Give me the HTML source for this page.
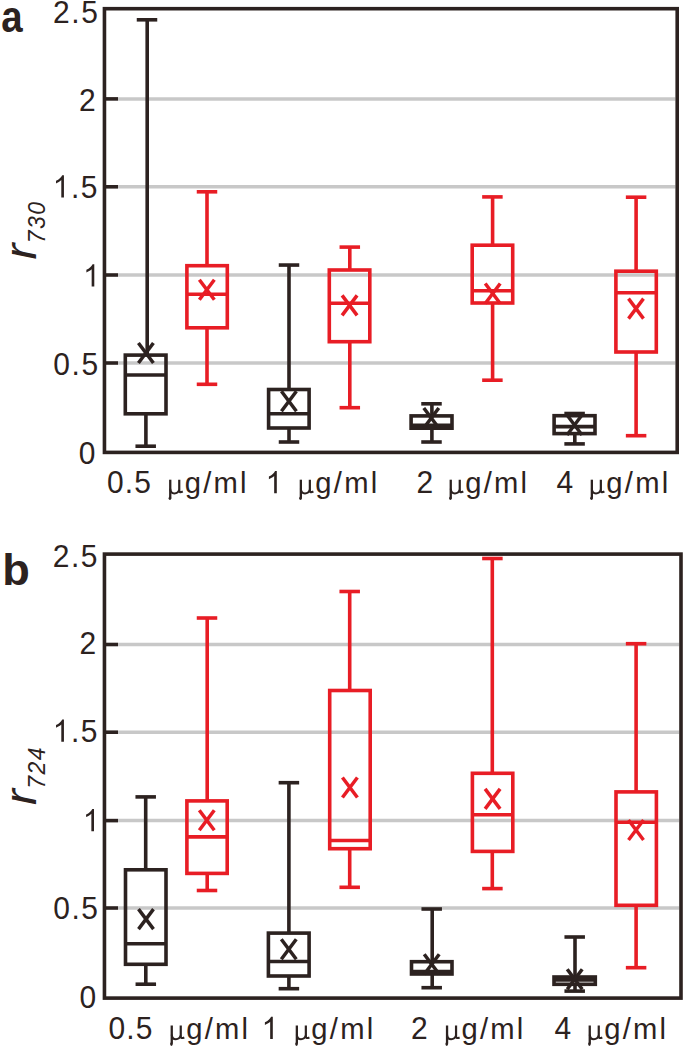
<!DOCTYPE html>
<html><head><meta charset="utf-8"><style>
html,body{margin:0;padding:0;background:#fff;}
svg{display:block;}
text{font-family:"Liberation Sans",sans-serif;fill:#2c2220;}
text.sf{font-family:"Liberation Serif",serif;}
</style></head><body>
<svg width="685" height="1047" viewBox="0 0 685 1047">
<line x1="118.00" y1="98.90" x2="675.40" y2="98.90" stroke="#c8c8c8" stroke-width="3.5" stroke-linecap="butt"/>
<line x1="104.45" y1="98.90" x2="118.00" y2="98.90" stroke="#2c2220" stroke-width="3.6" stroke-linecap="butt"/>
<line x1="118.00" y1="186.80" x2="675.40" y2="186.80" stroke="#c8c8c8" stroke-width="3.5" stroke-linecap="butt"/>
<line x1="104.45" y1="186.80" x2="118.00" y2="186.80" stroke="#2c2220" stroke-width="3.6" stroke-linecap="butt"/>
<line x1="118.00" y1="275.00" x2="675.40" y2="275.00" stroke="#c8c8c8" stroke-width="3.5" stroke-linecap="butt"/>
<line x1="104.45" y1="275.00" x2="118.00" y2="275.00" stroke="#2c2220" stroke-width="3.6" stroke-linecap="butt"/>
<line x1="118.00" y1="363.00" x2="675.40" y2="363.00" stroke="#c8c8c8" stroke-width="3.5" stroke-linecap="butt"/>
<line x1="104.45" y1="363.00" x2="118.00" y2="363.00" stroke="#2c2220" stroke-width="3.6" stroke-linecap="butt"/>
<line x1="147.20" y1="19.80" x2="147.20" y2="355.10" stroke="#2c2220" stroke-width="3.6" stroke-linecap="butt"/>
<line x1="145.90" y1="413.80" x2="145.90" y2="446.20" stroke="#2c2220" stroke-width="3.6" stroke-linecap="butt"/>
<line x1="136.75" y1="19.80" x2="157.25" y2="19.80" stroke="#2c2220" stroke-width="3.6" stroke-linecap="butt"/>
<line x1="135.45" y1="446.20" x2="155.95" y2="446.20" stroke="#2c2220" stroke-width="3.6" stroke-linecap="butt"/>
<rect x="125.30" y="355.10" width="40.70" height="58.70" fill="none" stroke="#2c2220" stroke-width="3.6"/>
<line x1="125.30" y1="375.00" x2="166.00" y2="375.00" stroke="#2c2220" stroke-width="3.6" stroke-linecap="butt"/>
<line x1="138.40" y1="343.00" x2="153.40" y2="363.00" stroke="#2c2220" stroke-width="3.5" stroke-linecap="butt"/>
<line x1="153.40" y1="343.00" x2="138.40" y2="363.00" stroke="#2c2220" stroke-width="3.5" stroke-linecap="butt"/>
<line x1="207.00" y1="191.80" x2="207.00" y2="265.70" stroke="#e81d25" stroke-width="3.6" stroke-linecap="butt"/>
<line x1="207.00" y1="327.80" x2="207.00" y2="384.30" stroke="#e81d25" stroke-width="3.6" stroke-linecap="butt"/>
<line x1="196.75" y1="191.80" x2="217.25" y2="191.80" stroke="#e81d25" stroke-width="3.6" stroke-linecap="butt"/>
<line x1="196.75" y1="384.30" x2="217.25" y2="384.30" stroke="#e81d25" stroke-width="3.6" stroke-linecap="butt"/>
<rect x="186.90" y="265.70" width="40.40" height="62.10" fill="none" stroke="#e81d25" stroke-width="3.6"/>
<line x1="186.90" y1="294.20" x2="227.30" y2="294.20" stroke="#e81d25" stroke-width="3.6" stroke-linecap="butt"/>
<line x1="199.35" y1="279.75" x2="214.35" y2="299.75" stroke="#e81d25" stroke-width="3.5" stroke-linecap="butt"/>
<line x1="214.35" y1="279.75" x2="199.35" y2="299.75" stroke="#e81d25" stroke-width="3.5" stroke-linecap="butt"/>
<line x1="289.00" y1="265.05" x2="289.00" y2="389.50" stroke="#2c2220" stroke-width="3.6" stroke-linecap="butt"/>
<line x1="289.00" y1="428.00" x2="289.00" y2="442.00" stroke="#2c2220" stroke-width="3.6" stroke-linecap="butt"/>
<line x1="278.75" y1="265.05" x2="299.25" y2="265.05" stroke="#2c2220" stroke-width="3.6" stroke-linecap="butt"/>
<line x1="278.75" y1="442.00" x2="299.25" y2="442.00" stroke="#2c2220" stroke-width="3.6" stroke-linecap="butt"/>
<rect x="268.60" y="389.50" width="40.50" height="38.50" fill="none" stroke="#2c2220" stroke-width="3.6"/>
<line x1="268.60" y1="413.80" x2="309.10" y2="413.80" stroke="#2c2220" stroke-width="3.6" stroke-linecap="butt"/>
<line x1="281.40" y1="391.30" x2="296.40" y2="411.30" stroke="#2c2220" stroke-width="3.5" stroke-linecap="butt"/>
<line x1="296.40" y1="391.30" x2="281.40" y2="411.30" stroke="#2c2220" stroke-width="3.5" stroke-linecap="butt"/>
<line x1="349.80" y1="247.10" x2="349.80" y2="270.00" stroke="#e81d25" stroke-width="3.6" stroke-linecap="butt"/>
<line x1="349.80" y1="341.70" x2="349.80" y2="407.70" stroke="#e81d25" stroke-width="3.6" stroke-linecap="butt"/>
<line x1="339.55" y1="247.10" x2="360.05" y2="247.10" stroke="#e81d25" stroke-width="3.6" stroke-linecap="butt"/>
<line x1="339.55" y1="407.70" x2="360.05" y2="407.70" stroke="#e81d25" stroke-width="3.6" stroke-linecap="butt"/>
<rect x="329.30" y="270.00" width="40.50" height="71.70" fill="none" stroke="#e81d25" stroke-width="3.6"/>
<line x1="329.30" y1="303.30" x2="369.80" y2="303.30" stroke="#e81d25" stroke-width="3.6" stroke-linecap="butt"/>
<line x1="342.10" y1="295.40" x2="357.10" y2="315.40" stroke="#e81d25" stroke-width="3.5" stroke-linecap="butt"/>
<line x1="357.10" y1="295.40" x2="342.10" y2="315.40" stroke="#e81d25" stroke-width="3.5" stroke-linecap="butt"/>
<line x1="431.90" y1="403.80" x2="431.90" y2="415.90" stroke="#2c2220" stroke-width="3.6" stroke-linecap="butt"/>
<line x1="431.90" y1="428.20" x2="431.90" y2="442.00" stroke="#2c2220" stroke-width="3.6" stroke-linecap="butt"/>
<line x1="421.25" y1="403.80" x2="441.75" y2="403.80" stroke="#2c2220" stroke-width="3.6" stroke-linecap="butt"/>
<line x1="421.25" y1="442.00" x2="441.75" y2="442.00" stroke="#2c2220" stroke-width="3.6" stroke-linecap="butt"/>
<rect x="411.10" y="415.90" width="40.90" height="12.30" fill="none" stroke="#2c2220" stroke-width="3.6"/>
<line x1="411.10" y1="425.30" x2="452.00" y2="425.30" stroke="#2c2220" stroke-width="3.6" stroke-linecap="butt"/>
<line x1="423.80" y1="408.00" x2="438.80" y2="428.00" stroke="#2c2220" stroke-width="3.5" stroke-linecap="butt"/>
<line x1="438.80" y1="408.00" x2="423.80" y2="428.00" stroke="#2c2220" stroke-width="3.5" stroke-linecap="butt"/>
<line x1="492.60" y1="196.90" x2="492.60" y2="245.20" stroke="#e81d25" stroke-width="3.6" stroke-linecap="butt"/>
<line x1="492.60" y1="303.00" x2="492.60" y2="380.20" stroke="#e81d25" stroke-width="3.6" stroke-linecap="butt"/>
<line x1="482.15" y1="196.90" x2="502.65" y2="196.90" stroke="#e81d25" stroke-width="3.6" stroke-linecap="butt"/>
<line x1="482.15" y1="380.20" x2="502.65" y2="380.20" stroke="#e81d25" stroke-width="3.6" stroke-linecap="butt"/>
<rect x="472.20" y="245.20" width="40.50" height="57.80" fill="none" stroke="#e81d25" stroke-width="3.6"/>
<line x1="472.20" y1="290.80" x2="512.70" y2="290.80" stroke="#e81d25" stroke-width="3.6" stroke-linecap="butt"/>
<line x1="485.20" y1="283.50" x2="500.20" y2="303.50" stroke="#e81d25" stroke-width="3.5" stroke-linecap="butt"/>
<line x1="500.20" y1="283.50" x2="485.20" y2="303.50" stroke="#e81d25" stroke-width="3.5" stroke-linecap="butt"/>
<line x1="574.80" y1="413.50" x2="574.80" y2="415.70" stroke="#2c2220" stroke-width="3.6" stroke-linecap="butt"/>
<line x1="574.80" y1="433.60" x2="574.80" y2="443.90" stroke="#2c2220" stroke-width="3.6" stroke-linecap="butt"/>
<line x1="564.35" y1="413.50" x2="584.85" y2="413.50" stroke="#2c2220" stroke-width="3.6" stroke-linecap="butt"/>
<line x1="564.35" y1="443.90" x2="584.85" y2="443.90" stroke="#2c2220" stroke-width="3.6" stroke-linecap="butt"/>
<rect x="554.10" y="415.70" width="40.90" height="17.90" fill="none" stroke="#2c2220" stroke-width="3.6"/>
<line x1="554.10" y1="426.60" x2="595.00" y2="426.60" stroke="#2c2220" stroke-width="3.6" stroke-linecap="butt"/>
<line x1="567.00" y1="415.00" x2="582.00" y2="435.00" stroke="#2c2220" stroke-width="3.5" stroke-linecap="butt"/>
<line x1="582.00" y1="415.00" x2="567.00" y2="435.00" stroke="#2c2220" stroke-width="3.5" stroke-linecap="butt"/>
<line x1="636.10" y1="197.20" x2="636.10" y2="271.20" stroke="#e81d25" stroke-width="3.6" stroke-linecap="butt"/>
<line x1="636.10" y1="352.00" x2="636.10" y2="435.70" stroke="#e81d25" stroke-width="3.6" stroke-linecap="butt"/>
<line x1="625.85" y1="197.20" x2="646.35" y2="197.20" stroke="#e81d25" stroke-width="3.6" stroke-linecap="butt"/>
<line x1="625.85" y1="435.70" x2="646.35" y2="435.70" stroke="#e81d25" stroke-width="3.6" stroke-linecap="butt"/>
<rect x="615.90" y="271.20" width="40.40" height="80.80" fill="none" stroke="#e81d25" stroke-width="3.6"/>
<line x1="615.90" y1="292.70" x2="656.30" y2="292.70" stroke="#e81d25" stroke-width="3.6" stroke-linecap="butt"/>
<line x1="628.50" y1="298.60" x2="643.50" y2="318.60" stroke="#e81d25" stroke-width="3.5" stroke-linecap="butt"/>
<line x1="643.50" y1="298.60" x2="628.50" y2="318.60" stroke="#e81d25" stroke-width="3.5" stroke-linecap="butt"/>
<rect x="104.45" y="8.70" width="572.75" height="443.70" fill="none" stroke="#2c2220" stroke-width="3.6"/>
<line x1="118.00" y1="644.50" x2="679.20" y2="644.50" stroke="#c8c8c8" stroke-width="3.5" stroke-linecap="butt"/>
<line x1="104.45" y1="644.50" x2="118.00" y2="644.50" stroke="#2c2220" stroke-width="3.6" stroke-linecap="butt"/>
<line x1="118.00" y1="732.20" x2="679.20" y2="732.20" stroke="#c8c8c8" stroke-width="3.5" stroke-linecap="butt"/>
<line x1="104.45" y1="732.20" x2="118.00" y2="732.20" stroke="#2c2220" stroke-width="3.6" stroke-linecap="butt"/>
<line x1="118.00" y1="820.60" x2="679.20" y2="820.60" stroke="#c8c8c8" stroke-width="3.5" stroke-linecap="butt"/>
<line x1="104.45" y1="820.60" x2="118.00" y2="820.60" stroke="#2c2220" stroke-width="3.6" stroke-linecap="butt"/>
<line x1="118.00" y1="908.00" x2="679.20" y2="908.00" stroke="#c8c8c8" stroke-width="3.5" stroke-linecap="butt"/>
<line x1="104.45" y1="908.00" x2="118.00" y2="908.00" stroke="#2c2220" stroke-width="3.6" stroke-linecap="butt"/>
<line x1="145.70" y1="796.90" x2="145.70" y2="869.80" stroke="#2c2220" stroke-width="3.6" stroke-linecap="butt"/>
<line x1="145.80" y1="964.30" x2="145.80" y2="984.20" stroke="#2c2220" stroke-width="3.6" stroke-linecap="butt"/>
<line x1="135.45" y1="796.90" x2="155.95" y2="796.90" stroke="#2c2220" stroke-width="3.6" stroke-linecap="butt"/>
<line x1="135.55" y1="984.20" x2="156.05" y2="984.20" stroke="#2c2220" stroke-width="3.6" stroke-linecap="butt"/>
<rect x="125.50" y="869.80" width="40.50" height="94.50" fill="none" stroke="#2c2220" stroke-width="3.6"/>
<line x1="125.50" y1="943.70" x2="166.00" y2="943.70" stroke="#2c2220" stroke-width="3.6" stroke-linecap="butt"/>
<line x1="138.50" y1="909.10" x2="153.50" y2="929.10" stroke="#2c2220" stroke-width="3.5" stroke-linecap="butt"/>
<line x1="153.50" y1="909.10" x2="138.50" y2="929.10" stroke="#2c2220" stroke-width="3.5" stroke-linecap="butt"/>
<line x1="207.20" y1="618.00" x2="207.20" y2="800.90" stroke="#e81d25" stroke-width="3.6" stroke-linecap="butt"/>
<line x1="207.20" y1="873.40" x2="207.20" y2="890.50" stroke="#e81d25" stroke-width="3.6" stroke-linecap="butt"/>
<line x1="196.75" y1="618.00" x2="217.25" y2="618.00" stroke="#e81d25" stroke-width="3.6" stroke-linecap="butt"/>
<line x1="196.75" y1="890.50" x2="217.25" y2="890.50" stroke="#e81d25" stroke-width="3.6" stroke-linecap="butt"/>
<rect x="186.90" y="800.90" width="40.30" height="72.50" fill="none" stroke="#e81d25" stroke-width="3.6"/>
<line x1="186.90" y1="836.90" x2="227.20" y2="836.90" stroke="#e81d25" stroke-width="3.6" stroke-linecap="butt"/>
<line x1="199.30" y1="810.30" x2="214.30" y2="830.30" stroke="#e81d25" stroke-width="3.5" stroke-linecap="butt"/>
<line x1="214.30" y1="810.30" x2="199.30" y2="830.30" stroke="#e81d25" stroke-width="3.5" stroke-linecap="butt"/>
<line x1="288.90" y1="782.70" x2="288.90" y2="933.10" stroke="#2c2220" stroke-width="3.6" stroke-linecap="butt"/>
<line x1="288.90" y1="976.00" x2="288.90" y2="988.70" stroke="#2c2220" stroke-width="3.6" stroke-linecap="butt"/>
<line x1="278.65" y1="782.70" x2="299.15" y2="782.70" stroke="#2c2220" stroke-width="3.6" stroke-linecap="butt"/>
<line x1="278.65" y1="988.70" x2="299.15" y2="988.70" stroke="#2c2220" stroke-width="3.6" stroke-linecap="butt"/>
<rect x="268.40" y="933.10" width="40.70" height="42.90" fill="none" stroke="#2c2220" stroke-width="3.6"/>
<line x1="268.40" y1="961.50" x2="309.10" y2="961.50" stroke="#2c2220" stroke-width="3.6" stroke-linecap="butt"/>
<line x1="281.30" y1="939.30" x2="296.30" y2="959.30" stroke="#2c2220" stroke-width="3.5" stroke-linecap="butt"/>
<line x1="296.30" y1="939.30" x2="281.30" y2="959.30" stroke="#2c2220" stroke-width="3.5" stroke-linecap="butt"/>
<line x1="349.70" y1="591.50" x2="349.70" y2="690.50" stroke="#e81d25" stroke-width="3.6" stroke-linecap="butt"/>
<line x1="349.70" y1="848.70" x2="349.70" y2="887.30" stroke="#e81d25" stroke-width="3.6" stroke-linecap="butt"/>
<line x1="339.45" y1="591.50" x2="359.95" y2="591.50" stroke="#e81d25" stroke-width="3.6" stroke-linecap="butt"/>
<line x1="339.45" y1="887.30" x2="359.95" y2="887.30" stroke="#e81d25" stroke-width="3.6" stroke-linecap="butt"/>
<rect x="329.70" y="690.50" width="40.50" height="158.20" fill="none" stroke="#e81d25" stroke-width="3.6"/>
<line x1="329.70" y1="840.50" x2="370.20" y2="840.50" stroke="#e81d25" stroke-width="3.6" stroke-linecap="butt"/>
<line x1="342.40" y1="777.50" x2="357.40" y2="797.50" stroke="#e81d25" stroke-width="3.5" stroke-linecap="butt"/>
<line x1="357.40" y1="777.50" x2="342.40" y2="797.50" stroke="#e81d25" stroke-width="3.5" stroke-linecap="butt"/>
<line x1="432.20" y1="909.00" x2="432.20" y2="961.70" stroke="#2c2220" stroke-width="3.6" stroke-linecap="butt"/>
<line x1="432.20" y1="974.00" x2="432.20" y2="987.70" stroke="#2c2220" stroke-width="3.6" stroke-linecap="butt"/>
<line x1="421.45" y1="909.00" x2="441.95" y2="909.00" stroke="#2c2220" stroke-width="3.6" stroke-linecap="butt"/>
<line x1="421.45" y1="987.70" x2="441.95" y2="987.70" stroke="#2c2220" stroke-width="3.6" stroke-linecap="butt"/>
<rect x="411.50" y="961.70" width="40.50" height="12.30" fill="none" stroke="#2c2220" stroke-width="3.6"/>
<line x1="411.50" y1="971.50" x2="452.00" y2="971.50" stroke="#2c2220" stroke-width="3.6" stroke-linecap="butt"/>
<line x1="424.20" y1="954.20" x2="439.20" y2="974.20" stroke="#2c2220" stroke-width="3.5" stroke-linecap="butt"/>
<line x1="439.20" y1="954.20" x2="424.20" y2="974.20" stroke="#2c2220" stroke-width="3.5" stroke-linecap="butt"/>
<line x1="492.30" y1="558.50" x2="492.30" y2="773.30" stroke="#e81d25" stroke-width="3.6" stroke-linecap="butt"/>
<line x1="492.30" y1="851.40" x2="492.30" y2="888.60" stroke="#e81d25" stroke-width="3.6" stroke-linecap="butt"/>
<line x1="482.15" y1="558.50" x2="502.65" y2="558.50" stroke="#e81d25" stroke-width="3.6" stroke-linecap="butt"/>
<line x1="482.15" y1="888.60" x2="502.65" y2="888.60" stroke="#e81d25" stroke-width="3.6" stroke-linecap="butt"/>
<rect x="472.40" y="773.30" width="40.40" height="78.10" fill="none" stroke="#e81d25" stroke-width="3.6"/>
<line x1="472.40" y1="814.80" x2="512.80" y2="814.80" stroke="#e81d25" stroke-width="3.6" stroke-linecap="butt"/>
<line x1="485.10" y1="788.90" x2="500.10" y2="808.90" stroke="#e81d25" stroke-width="3.5" stroke-linecap="butt"/>
<line x1="500.10" y1="788.90" x2="485.10" y2="808.90" stroke="#e81d25" stroke-width="3.5" stroke-linecap="butt"/>
<line x1="575.00" y1="937.00" x2="575.00" y2="977.00" stroke="#2c2220" stroke-width="3.6" stroke-linecap="butt"/>
<line x1="575.00" y1="984.30" x2="575.00" y2="991.10" stroke="#2c2220" stroke-width="3.6" stroke-linecap="butt"/>
<line x1="564.45" y1="937.00" x2="584.95" y2="937.00" stroke="#2c2220" stroke-width="3.6" stroke-linecap="butt"/>
<line x1="564.45" y1="991.10" x2="584.95" y2="991.10" stroke="#2c2220" stroke-width="3.6" stroke-linecap="butt"/>
<rect x="554.00" y="977.00" width="41.30" height="7.30" fill="none" stroke="#2c2220" stroke-width="3.6"/>
<line x1="554.00" y1="979.90" x2="595.30" y2="979.90" stroke="#2c2220" stroke-width="3.6" stroke-linecap="butt"/>
<line x1="567.20" y1="969.30" x2="582.20" y2="989.30" stroke="#2c2220" stroke-width="3.5" stroke-linecap="butt"/>
<line x1="582.20" y1="969.30" x2="567.20" y2="989.30" stroke="#2c2220" stroke-width="3.5" stroke-linecap="butt"/>
<line x1="636.10" y1="643.70" x2="636.10" y2="791.90" stroke="#e81d25" stroke-width="3.6" stroke-linecap="butt"/>
<line x1="636.10" y1="905.30" x2="636.10" y2="967.70" stroke="#e81d25" stroke-width="3.6" stroke-linecap="butt"/>
<line x1="625.85" y1="643.70" x2="646.35" y2="643.70" stroke="#e81d25" stroke-width="3.6" stroke-linecap="butt"/>
<line x1="625.85" y1="967.70" x2="646.35" y2="967.70" stroke="#e81d25" stroke-width="3.6" stroke-linecap="butt"/>
<rect x="616.00" y="791.90" width="40.40" height="113.40" fill="none" stroke="#e81d25" stroke-width="3.6"/>
<line x1="616.00" y1="822.30" x2="656.40" y2="822.30" stroke="#e81d25" stroke-width="3.6" stroke-linecap="butt"/>
<line x1="628.50" y1="820.00" x2="643.50" y2="840.00" stroke="#e81d25" stroke-width="3.5" stroke-linecap="butt"/>
<line x1="643.50" y1="820.00" x2="628.50" y2="840.00" stroke="#e81d25" stroke-width="3.5" stroke-linecap="butt"/>
<rect x="104.45" y="554.10" width="576.55" height="444.00" fill="none" stroke="#2c2220" stroke-width="3.6"/>
<text x="53.06" y="0" font-size="30.0" transform="translate(0,22.60) scale(1,1.035)">2</text>
<text x="71.29" y="0" font-size="30.0" transform="translate(0,22.60) scale(1,1.035)">.</text>
<text x="81.18" y="0" font-size="30.0" transform="translate(0,22.60) scale(1,1.035)">5</text>
<text x="79.12" y="0" font-size="30.0" transform="translate(0,110.60) scale(1,1.035)">2</text>
<path d="M763 0L583 0L583 1147C540 1106 483 1064 412 1023C342 982 279 951 223 930L223 1104C324 1151 412 1208 487 1274C562 1340 615 1405 646 1466L763 1466Z" transform="translate(52.76,197.50) scale(0.014648,-0.015161)" fill="#2c2220"/>
<text x="70.99" y="0" font-size="30.0" transform="translate(0,197.50) scale(1,1.035)">.</text>
<text x="80.88" y="0" font-size="30.0" transform="translate(0,197.50) scale(1,1.035)">5</text>
<path d="M763 0L583 0L583 1147C540 1106 483 1064 412 1023C342 982 279 951 223 930L223 1104C324 1151 412 1208 487 1274C562 1340 615 1405 646 1466L763 1466Z" transform="translate(83.12,286.60) scale(0.014648,-0.015161)" fill="#2c2220"/>
<text x="53.36" y="0" font-size="30.0" transform="translate(0,374.50) scale(1,1.035)">0</text>
<text x="71.59" y="0" font-size="30.0" transform="translate(0,374.50) scale(1,1.035)">.</text>
<text x="81.48" y="0" font-size="30.0" transform="translate(0,374.50) scale(1,1.035)">5</text>
<text x="78.79" y="0" font-size="30.0" transform="translate(0,463.50) scale(1,1.035)">0</text>
<text x="52.66" y="0" font-size="30.0" transform="translate(0,567.40) scale(1,1.035)">2</text>
<text x="70.89" y="0" font-size="30.0" transform="translate(0,567.40) scale(1,1.035)">.</text>
<text x="80.78" y="0" font-size="30.0" transform="translate(0,567.40) scale(1,1.035)">5</text>
<text x="79.42" y="0" font-size="30.0" transform="translate(0,654.30) scale(1,1.035)">2</text>
<path d="M763 0L583 0L583 1147C540 1106 483 1064 412 1023C342 982 279 951 223 930L223 1104C324 1151 412 1208 487 1274C562 1340 615 1405 646 1466L763 1466Z" transform="translate(52.76,741.80) scale(0.014648,-0.015161)" fill="#2c2220"/>
<text x="70.99" y="0" font-size="30.0" transform="translate(0,741.80) scale(1,1.035)">.</text>
<text x="80.88" y="0" font-size="30.0" transform="translate(0,741.80) scale(1,1.035)">5</text>
<path d="M763 0L583 0L583 1147C540 1106 483 1064 412 1023C342 982 279 951 223 930L223 1104C324 1151 412 1208 487 1274C562 1340 615 1405 646 1466L763 1466Z" transform="translate(82.82,831.20) scale(0.014648,-0.015161)" fill="#2c2220"/>
<text x="53.16" y="0" font-size="30.0" transform="translate(0,918.70) scale(1,1.035)">0</text>
<text x="71.39" y="0" font-size="30.0" transform="translate(0,918.70) scale(1,1.035)">.</text>
<text x="81.28" y="0" font-size="30.0" transform="translate(0,918.70) scale(1,1.035)">5</text>
<text x="79.59" y="0" font-size="30.0" transform="translate(0,1007.70) scale(1,1.035)">0</text>
<text x="106.93" y="0" font-size="30.0" transform="translate(0,493.30) scale(1,1.035)">0</text>
<text x="124.71" y="0" font-size="30.0" transform="translate(0,493.30) scale(1,1.035)">.</text>
<text x="134.15" y="0" font-size="30.0" transform="translate(0,493.30) scale(1,1.035)">5</text>
<g transform="translate(168.50,493.30)" fill="none" stroke="#2c2220"><path d="M1.75 -13.6 V4.6" stroke-width="2.3"/><ellipse cx="1.45" cy="5.0" rx="1.35" ry="1.8" fill="#2c2220" stroke="none"/><path d="M1.75 -4.5 C1.9 -1.0 3.6 0.1 5.9 0.1 C8.2 0.1 10.0 -1.4 10.7 -3.6" stroke-width="2.0"/><path d="M10.75 -13.6 V-2.6 C10.8 -0.9 11.9 -0.7 14.3 -1.7" stroke-width="2.2"/></g>
<text x="184.77" y="0" font-size="29.2" transform="translate(0,493.30) scale(1,1.0)">g</text>
<text x="203.21" y="0" font-size="29.2" transform="translate(0,493.30) scale(1,1.0)">/</text>
<text x="213.53" y="0" font-size="29.2" transform="translate(0,493.30) scale(1,1.0)">m</text>
<text x="240.05" y="0" font-size="29.2" transform="translate(0,493.30) scale(1,1.0)">l</text>
<path d="M763 0L583 0L583 1147C540 1106 483 1064 412 1023C342 982 279 951 223 930L223 1104C324 1151 412 1208 487 1274C562 1340 615 1405 646 1466L763 1466Z" transform="translate(265.63,493.30) scale(0.014648,-0.015161)" fill="#2c2220"/>
<g transform="translate(299.10,493.30)" fill="none" stroke="#2c2220"><path d="M1.75 -13.6 V4.6" stroke-width="2.3"/><ellipse cx="1.45" cy="5.0" rx="1.35" ry="1.8" fill="#2c2220" stroke="none"/><path d="M1.75 -4.5 C1.9 -1.0 3.6 0.1 5.9 0.1 C8.2 0.1 10.0 -1.4 10.7 -3.6" stroke-width="2.0"/><path d="M10.75 -13.6 V-2.6 C10.8 -0.9 11.9 -0.7 14.3 -1.7" stroke-width="2.2"/></g>
<text x="315.37" y="0" font-size="29.2" transform="translate(0,493.30) scale(1,1.0)">g</text>
<text x="333.81" y="0" font-size="29.2" transform="translate(0,493.30) scale(1,1.0)">/</text>
<text x="344.13" y="0" font-size="29.2" transform="translate(0,493.30) scale(1,1.0)">m</text>
<text x="370.65" y="0" font-size="29.2" transform="translate(0,493.30) scale(1,1.0)">l</text>
<text x="416.39" y="0" font-size="30.0" transform="translate(0,493.30) scale(1,1.035)">2</text>
<g transform="translate(449.00,493.30)" fill="none" stroke="#2c2220"><path d="M1.75 -13.6 V4.6" stroke-width="2.3"/><ellipse cx="1.45" cy="5.0" rx="1.35" ry="1.8" fill="#2c2220" stroke="none"/><path d="M1.75 -4.5 C1.9 -1.0 3.6 0.1 5.9 0.1 C8.2 0.1 10.0 -1.4 10.7 -3.6" stroke-width="2.0"/><path d="M10.75 -13.6 V-2.6 C10.8 -0.9 11.9 -0.7 14.3 -1.7" stroke-width="2.2"/></g>
<text x="465.27" y="0" font-size="29.2" transform="translate(0,493.30) scale(1,1.0)">g</text>
<text x="483.71" y="0" font-size="29.2" transform="translate(0,493.30) scale(1,1.0)">/</text>
<text x="494.03" y="0" font-size="29.2" transform="translate(0,493.30) scale(1,1.0)">m</text>
<text x="520.55" y="0" font-size="29.2" transform="translate(0,493.30) scale(1,1.0)">l</text>
<text x="556.61" y="0" font-size="30.0" transform="translate(0,493.30) scale(1,1.035)">4</text>
<g transform="translate(590.10,493.30)" fill="none" stroke="#2c2220"><path d="M1.75 -13.6 V4.6" stroke-width="2.3"/><ellipse cx="1.45" cy="5.0" rx="1.35" ry="1.8" fill="#2c2220" stroke="none"/><path d="M1.75 -4.5 C1.9 -1.0 3.6 0.1 5.9 0.1 C8.2 0.1 10.0 -1.4 10.7 -3.6" stroke-width="2.0"/><path d="M10.75 -13.6 V-2.6 C10.8 -0.9 11.9 -0.7 14.3 -1.7" stroke-width="2.2"/></g>
<text x="606.37" y="0" font-size="29.2" transform="translate(0,493.30) scale(1,1.0)">g</text>
<text x="624.81" y="0" font-size="29.2" transform="translate(0,493.30) scale(1,1.0)">/</text>
<text x="635.13" y="0" font-size="29.2" transform="translate(0,493.30) scale(1,1.0)">m</text>
<text x="661.65" y="0" font-size="29.2" transform="translate(0,493.30) scale(1,1.0)">l</text>
<text x="108.43" y="0" font-size="30.0" transform="translate(0,1039.10) scale(1,1.035)">0</text>
<text x="126.21" y="0" font-size="30.0" transform="translate(0,1039.10) scale(1,1.035)">.</text>
<text x="135.65" y="0" font-size="30.0" transform="translate(0,1039.10) scale(1,1.035)">5</text>
<g transform="translate(170.00,1039.10)" fill="none" stroke="#2c2220"><path d="M1.75 -13.6 V4.6" stroke-width="2.3"/><ellipse cx="1.45" cy="5.0" rx="1.35" ry="1.8" fill="#2c2220" stroke="none"/><path d="M1.75 -4.5 C1.9 -1.0 3.6 0.1 5.9 0.1 C8.2 0.1 10.0 -1.4 10.7 -3.6" stroke-width="2.0"/><path d="M10.75 -13.6 V-2.6 C10.8 -0.9 11.9 -0.7 14.3 -1.7" stroke-width="2.2"/></g>
<text x="186.27" y="0" font-size="29.2" transform="translate(0,1039.10) scale(1,1.0)">g</text>
<text x="204.71" y="0" font-size="29.2" transform="translate(0,1039.10) scale(1,1.0)">/</text>
<text x="215.03" y="0" font-size="29.2" transform="translate(0,1039.10) scale(1,1.0)">m</text>
<text x="241.55" y="0" font-size="29.2" transform="translate(0,1039.10) scale(1,1.0)">l</text>
<path d="M763 0L583 0L583 1147C540 1106 483 1064 412 1023C342 982 279 951 223 930L223 1104C324 1151 412 1208 487 1274C562 1340 615 1405 646 1466L763 1466Z" transform="translate(261.63,1039.10) scale(0.014648,-0.015161)" fill="#2c2220"/>
<g transform="translate(295.10,1039.10)" fill="none" stroke="#2c2220"><path d="M1.75 -13.6 V4.6" stroke-width="2.3"/><ellipse cx="1.45" cy="5.0" rx="1.35" ry="1.8" fill="#2c2220" stroke="none"/><path d="M1.75 -4.5 C1.9 -1.0 3.6 0.1 5.9 0.1 C8.2 0.1 10.0 -1.4 10.7 -3.6" stroke-width="2.0"/><path d="M10.75 -13.6 V-2.6 C10.8 -0.9 11.9 -0.7 14.3 -1.7" stroke-width="2.2"/></g>
<text x="311.37" y="0" font-size="29.2" transform="translate(0,1039.10) scale(1,1.0)">g</text>
<text x="329.81" y="0" font-size="29.2" transform="translate(0,1039.10) scale(1,1.0)">/</text>
<text x="340.13" y="0" font-size="29.2" transform="translate(0,1039.10) scale(1,1.0)">m</text>
<text x="366.65" y="0" font-size="29.2" transform="translate(0,1039.10) scale(1,1.0)">l</text>
<text x="410.89" y="0" font-size="30.0" transform="translate(0,1039.10) scale(1,1.035)">2</text>
<g transform="translate(445.30,1039.10)" fill="none" stroke="#2c2220"><path d="M1.75 -13.6 V4.6" stroke-width="2.3"/><ellipse cx="1.45" cy="5.0" rx="1.35" ry="1.8" fill="#2c2220" stroke="none"/><path d="M1.75 -4.5 C1.9 -1.0 3.6 0.1 5.9 0.1 C8.2 0.1 10.0 -1.4 10.7 -3.6" stroke-width="2.0"/><path d="M10.75 -13.6 V-2.6 C10.8 -0.9 11.9 -0.7 14.3 -1.7" stroke-width="2.2"/></g>
<text x="461.57" y="0" font-size="29.2" transform="translate(0,1039.10) scale(1,1.0)">g</text>
<text x="480.01" y="0" font-size="29.2" transform="translate(0,1039.10) scale(1,1.0)">/</text>
<text x="490.33" y="0" font-size="29.2" transform="translate(0,1039.10) scale(1,1.0)">m</text>
<text x="516.85" y="0" font-size="29.2" transform="translate(0,1039.10) scale(1,1.0)">l</text>
<text x="554.41" y="0" font-size="30.0" transform="translate(0,1039.10) scale(1,1.035)">4</text>
<g transform="translate(588.00,1039.10)" fill="none" stroke="#2c2220"><path d="M1.75 -13.6 V4.6" stroke-width="2.3"/><ellipse cx="1.45" cy="5.0" rx="1.35" ry="1.8" fill="#2c2220" stroke="none"/><path d="M1.75 -4.5 C1.9 -1.0 3.6 0.1 5.9 0.1 C8.2 0.1 10.0 -1.4 10.7 -3.6" stroke-width="2.0"/><path d="M10.75 -13.6 V-2.6 C10.8 -0.9 11.9 -0.7 14.3 -1.7" stroke-width="2.2"/></g>
<text x="604.27" y="0" font-size="29.2" transform="translate(0,1039.10) scale(1,1.0)">g</text>
<text x="622.71" y="0" font-size="29.2" transform="translate(0,1039.10) scale(1,1.0)">/</text>
<text x="633.03" y="0" font-size="29.2" transform="translate(0,1039.10) scale(1,1.0)">m</text>
<text x="659.55" y="0" font-size="29.2" transform="translate(0,1039.10) scale(1,1.0)">l</text>
<text x="0" y="0" font-size="44" font-weight="bold" transform="translate(1.17,31.5) scale(0.874,1)">a</text>
<text x="0" y="0" font-size="44" font-weight="bold" transform="translate(2.3,585.2) scale(1.025,1)">b</text>
<g transform="translate(36,259.5) rotate(-90)"><text x="0" y="0" font-size="44" font-style="italic" transform="scale(1.08,1)">r</text><text x="16.15" y="9" font-size="23" font-style="italic" letter-spacing="1.5">730</text></g>
<g transform="translate(36,805.0) rotate(-90)"><text x="0" y="0" font-size="44" font-style="italic" transform="scale(1.08,1)">r</text><text x="16.15" y="9" font-size="23" font-style="italic" letter-spacing="1.5">724</text></g>
</svg>
</body></html>
